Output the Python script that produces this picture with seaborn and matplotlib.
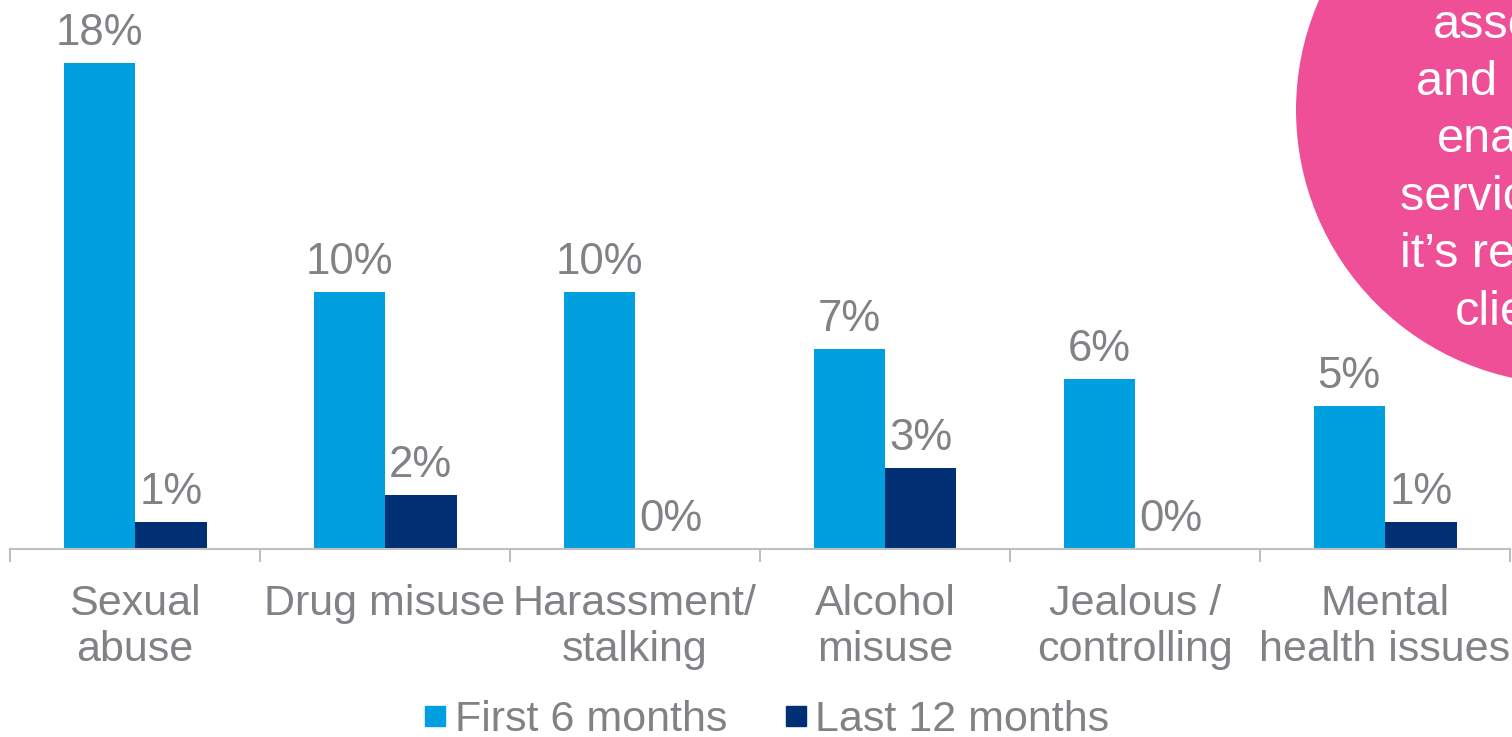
import matplotlib
matplotlib.use("Agg")
import matplotlib.pyplot as plt
from matplotlib.patches import Circle
from matplotlib.lines import Line2D
import pandas as pd
import seaborn as sns

# Chart data
categories = ["Sexual\nabuse", "Drug misuse", "Harassment/\nstalking",
              "Alcohol\nmisuse", "Jealous /\ncontrolling", "Mental\nhealth issues"]
first_6_months = [18.0, 9.5, 9.5, 7.4, 6.3, 5.3]
last_12_months = [1.0, 2.0, 0.0, 3.0, 0.0, 1.0]
series_names = ["First 6 months", "Last 12 months"]
callout_lines = ["assessment", "and referral", "enables", "services to",
                 "it\u2019s relevant to", "clients"]

LIGHT_BLUE = "#00A0E0"
NAVY = "#002F73"
GREY = "#808285"
PINK = "#EF4F97"

sns.set_theme(style="white")
plt.rcParams["font.family"] = ["Liberation Sans", "DejaVu Sans"]

df = pd.DataFrame({
    "Category": categories * 2,
    "Value": first_6_months + last_12_months,
    "Period": [series_names[0]] * len(categories) + [series_names[1]] * len(categories),
})

W, H = 1512, 737
fig = plt.figure(figsize=(W / 100, H / 100), dpi=100)
ax = fig.add_axes([10 / W, (H - 549) / H, 1500 / W, 549 / H])

sns.barplot(data=df, x="Category", y="Value", hue="Period", order=categories,
            hue_order=series_names, palette=[LIGHT_BLUE, NAVY],
            width=0.572, gap=0, saturation=1, legend=False, linewidth=0, ax=ax)

ax.set_xlim(-0.5, len(categories) - 0.5)
ax.set_ylim(0, 549 / 27)
ax.set_xlabel("")
ax.set_ylabel("")
ax.set_yticks([])

for side in ["top", "right", "left"]:
    ax.spines[side].set_visible(False)
ax.spines["bottom"].set_color("#BFBFBF")
ax.spines["bottom"].set_linewidth(1.5)

# Category labels on major ticks, separators on minor ticks
ax.set_xticks(range(len(categories)))
ax.set_xticklabels(categories, fontsize=31, color=GREY, linespacing=1.2)
ax.tick_params(axis="x", which="major", length=0, pad=25)
ax.set_xticks([i - 0.5 for i in range(len(categories) + 1)], minor=True)
ax.tick_params(axis="x", which="minor", length=9, width=1.5, color="#BFBFBF",
               direction="out", bottom=True)

# Value labels
for container, values in zip(ax.containers, [first_6_months, last_12_months]):
    for bar, v in zip(container, values):
        ax.annotate(f"{v:.0f}%", (bar.get_x() + bar.get_width() / 2, v),
                    xytext=(0, 13), textcoords="offset points",
                    ha="center", va="baseline", fontsize=31.5, color=GREY)

# Legend
handles = [Line2D([], [], marker="s", linestyle="none", markersize=15,
                  markerfacecolor=c, markeredgecolor=c) for c in (LIGHT_BLUE, NAVY)]
fig.legend(handles, series_names, loc="center", bbox_to_anchor=(766 / W, 1 - 720 / H),
           ncol=2, frameon=False, fontsize=31, labelcolor=GREY,
           handlelength=0.6, handletextpad=0.15, columnspacing=1.3, borderpad=0)

# Pink callout bubble in the top-right corner
fig.add_artist(Circle((1570 / 100, (H - 110) / 100), 274 / 100,
                      transform=fig.dpi_scale_trans, facecolor=PINK,
                      edgecolor="none", zorder=5))
starts = [1433, 1416, 1437, 1400, 1400, 1455]
baselines = [38, 95, 152, 210, 267, 325]
for text, x0, yb in zip(callout_lines, starts, baselines):
    fig.text(x0 / W, 1 - yb / H, text, ha="left", va="baseline",
             fontsize=35, color="white", zorder=6)

fig.savefig("out.png", dpi=100)
